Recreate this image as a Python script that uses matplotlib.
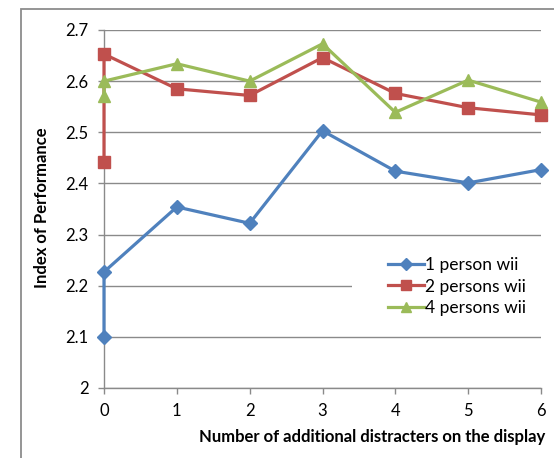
import matplotlib
matplotlib.use("Agg")
import matplotlib.pyplot as plt
from matplotlib.patches import Rectangle

plt.rcParams['font.family'] = ['Lato', 'DejaVu Sans']

x_values = [0, 0, 1, 2, 3, 4, 5, 6]
one_person = [2.100, 2.227, 2.354, 2.322, 2.503, 2.424, 2.401, 2.427]
two_persons = [2.442, 2.653, 2.585, 2.572, 2.646, 2.576, 2.548, 2.534]
four_persons = [2.571, 2.600, 2.634, 2.600, 2.673, 2.539, 2.602, 2.559]
series_names = ["1 person wii", "2 persons wii", "4 persons wii"]
x_ticks = [0, 1, 2, 3, 4, 5, 6]
y_ticks = [2, 2.1, 2.2, 2.3, 2.4, 2.5, 2.6, 2.7]
y_tick_labels = ["2", "2.1", "2.2", "2.3", "2.4", "2.5", "2.6", "2.7"]

W, H = 554, 458
fig = plt.figure(figsize=(W / 100, H / 100), dpi=100)

# outer chart border (clipped on right/bottom)
fig.patches.append(Rectangle((21 / W, -0.1), 1.2, 1 - 8.5 / H + 0.1, transform=fig.transFigure,
                             fill=False, edgecolor='#8c8c8c', linewidth=1.3, zorder=0))

ax = fig.add_axes([104 / W, 1 - 388 / H, (541 - 104) / W, (388 - 30) / H])
ax.set_xlim(0, 6)
ax.set_ylim(2, 2.7)
ax.set_axisbelow(True)

grid_c = '#8a8a8a'
ax.yaxis.grid(True, color=grid_c, linewidth=1.0)
ax.xaxis.grid(False)
for s in ['top', 'right']:
    ax.spines[s].set_visible(False)
for s in ['left', 'bottom']:
    ax.spines[s].set_color(grid_c)
    ax.spines[s].set_linewidth(1.0)

ax.set_xticks(x_ticks)
ax.set_yticks(y_ticks)
ax.set_yticklabels(y_tick_labels)
ax.tick_params(axis='both', colors=grid_c, labelcolor='black', labelsize=12,
               direction='out', length=4, width=1.0)
ax.tick_params(axis='x', pad=7)
ax.tick_params(axis='y', pad=7)

colors = ['#4F81BD', '#C0504D', '#9BBB59']
markers = ['D', 's', '^']
msizes = [7, 8, 9]
data = [one_person, two_persons, four_persons]
for vals, c, m, ms, name in zip(data, colors, markers, msizes, series_names):
    ax.plot(x_values, vals, color=c, marker=m, markersize=ms, linewidth=2.3,
            label=name, clip_on=False, zorder=3)

# white legend backdrop
ax.add_patch(Rectangle(((352 - 104) / (541 - 104), (388 - 325) / (388 - 30)),
                       0.5, (325 - 250) / (388 - 30), transform=ax.transAxes,
                       facecolor='white', edgecolor='none', zorder=1))

leg = ax.legend(loc='upper left', bbox_to_anchor=((388 - 104) / (541 - 104), (388 - 257) / (388 - 30)),
                frameon=False, fontsize=12.5, handlelength=2.1, handletextpad=0.05,
                labelspacing=0.32, borderaxespad=0, borderpad=0, markerscale=0.85)
leg.set_zorder(5)

fig.text(42 / W, 1 - 208 / H, "Index of Performance", rotation=90, ha='center', va='center',
         fontsize=12, fontweight='bold')
fig.text(372 / W, 1 - 437 / H, "Number of additional distracters on the display", ha='center',
         va='center', fontsize=12, fontweight='bold')

fig.savefig("out.png", dpi=100)
